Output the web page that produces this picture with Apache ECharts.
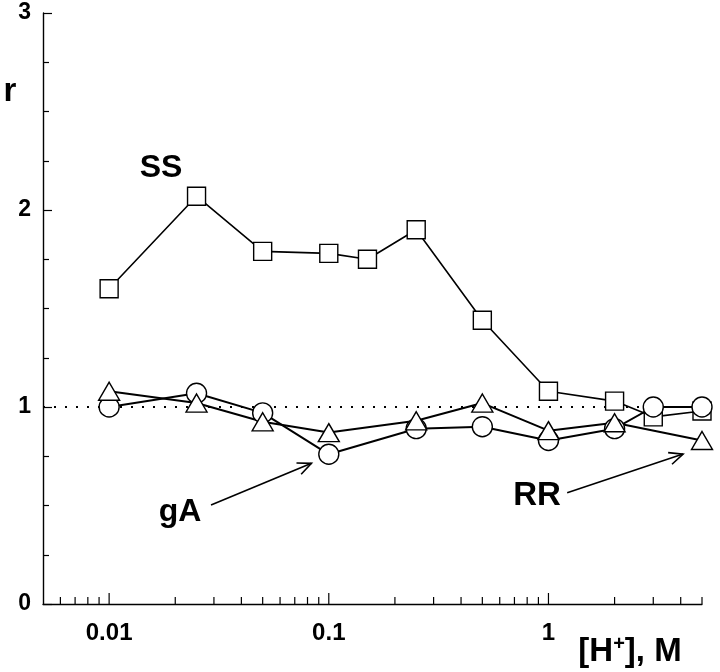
<!DOCTYPE html>
<html>
<head>
<meta charset="utf-8">
<script src="https://cdn.jsdelivr.net/npm/echarts@6/dist/echarts.min.js"></script>
<style>
html,body{margin:0;padding:0;background:#fff;}
#chart{width:720px;height:672px;}
</style>
</head>
<body>
<div id="chart"></div>
<script>
// ---- data ----
const xSS = [0.01, 0.025, 0.05, 0.1, 0.15, 0.25, 0.5, 1, 2, 3, 5];
const ySS = [1.60, 2.07, 1.79, 1.78, 1.75, 1.90, 1.44, 1.08, 1.03, 0.95, 0.98];
const xGA = [0.01, 0.025, 0.05, 0.1, 0.25, 0.5, 1, 2, 3, 5];
const yGA = [1.00, 1.07, 0.97, 0.76, 0.89, 0.90, 0.83, 0.89, 1.00, 1.00];
const xRR = [0.01, 0.025, 0.05, 0.1, 0.25, 0.5, 1, 2, 5];
const yRR = [1.08, 1.02, 0.925, 0.87, 0.93, 1.02, 0.88, 0.92, 0.83];
const refX = [0.005, 5];
const refY = [1, 1];
const majorTicks = [0.01, 0.1, 1];
const minorTicks = [0.006, 0.007, 0.008, 0.009,
  0.02, 0.03, 0.04, 0.05, 0.06, 0.07, 0.08, 0.09,
  0.2, 0.3, 0.4, 0.5, 0.6, 0.7, 0.8, 0.9,
  2, 3, 4, 5];
const xLabels = [0.01, 0.1, 1];
// annotation arrows: [fromX, fromY, toX, toY]
const arrowGA = [0.0291, 0.503, 0.0834, 0.714];
const arrowRR = [1.217, 0.565, 4.10, 0.761];

const zip = (xs, ys) => xs.map((x, i) => [x, ys[i]]);
const FONT = "'Liberation Sans', Arial, Helvetica, sans-serif";

const chart = echarts.init(document.getElementById('chart'), null, {renderer: 'canvas'});

const tickData = majorTicks.map(v => [v, 0, 1]).concat(minorTicks.map(v => [v, 0, 0]));

const lineSeries = (name, data, symbol, size, lw) => ({
  name, type: 'line', data,
  symbol, symbolSize: size,
  showAllSymbol: true,
  lineStyle: {color: '#000', width: lw},
  itemStyle: {color: '#fff', borderColor: '#000', borderWidth: 1.4},
  emphasis: {disabled: true},
  animation: false,
  z: 3
});

chart.setOption({
  animation: false,
  backgroundColor: '#fff',
  grid: {left: 43, right: 18, top: 13, bottom: 68, containLabel: false},
  xAxis: {
    type: 'log', logBase: 10, min: 0.005, max: 5,
    axisLine: {show: true, onZero: false, lineStyle: {color: '#000', width: 1.4}},
    axisTick: {show: false},
    minorTick: {show: false},
    splitLine: {show: false},
    axisLabel: {
      show: true, margin: 17,
      fontFamily: FONT, fontWeight: 'bold', fontSize: 24, color: '#000',
      showMinLabel: false, showMaxLabel: false,
      formatter: v => {
        for (const t of xLabels) {
          if (Math.abs(Math.log10(v) - Math.log10(t)) < 1e-6) return String(t);
        }
        return '';
      }
    }
  },
  yAxis: {
    type: 'value', min: 0, max: 3, interval: 1,
    axisLine: {show: true, onZero: false, lineStyle: {color: '#000', width: 1.4}},
    axisTick: {show: true, inside: true, length: 9, lineStyle: {color: '#000', width: 1.2}},
    minorTick: {show: true, splitNumber: 4, length: 6, lineStyle: {color: '#000', width: 1.2}},
    splitLine: {show: false},
    axisLabel: {margin: 12, fontFamily: FONT, fontWeight: 'bold', fontSize: 23, color: '#000'}
  },
  series: [
    {
      name: 'ref', type: 'line', data: zip(refX, refY), symbol: 'none',
      lineStyle: {color: '#000', width: 2, type: [2, 9]}, z: 1, silent: true
    },
    {
      name: 'ticks', type: 'custom', data: tickData, silent: true,
      encode: {x: 0, y: 1}, clip: false, z: 5,
      renderItem: (params, api) => {
        const p = api.coord([api.value(0), 0]);
        const len = api.value(2) ? 11 : 7;
        return {type: 'line', shape: {x1: p[0], y1: p[1], x2: p[0], y2: p[1] - len},
          style: {stroke: '#000', lineWidth: 1.2}};
      }
    },
    lineSeries('SS', zip(xSS, ySS), 'rect', 18, 1.6),
    lineSeries('gA', zip(xGA, yGA), 'circle', 20, 2),
    lineSeries('RR', zip(xRR, yRR), 'triangle', [21, 18], 2),
    {
      name: 'arrows', type: 'custom', data: [arrowGA, arrowRR], silent: true,
      encode: {x: [0, 2], y: [1, 3]}, clip: false, z: 6,
      renderItem: (params, api) => {
        const a = api.coord([api.value(0), api.value(1)]);
        const b = api.coord([api.value(2), api.value(3)]);
        const ang = Math.atan2(b[1] - a[1], b[0] - a[0]);
        const L = 15, w = 0.42;
        const h1 = [b[0] - L * Math.cos(ang - w), b[1] - L * Math.sin(ang - w)];
        const h2 = [b[0] - L * Math.cos(ang + w), b[1] - L * Math.sin(ang + w)];
        return {type: 'group', children: [
          {type: 'line', shape: {x1: a[0], y1: a[1], x2: b[0], y2: b[1]}, style: {stroke: '#000', lineWidth: 1.6}},
          {type: 'polyline', shape: {points: [h1, b, h2]}, style: {stroke: '#000', lineWidth: 1.6, fill: null}}
        ]};
      }
    }
  ],
  graphic: [
    {type: 'text', x: 10, y: 92, style: {text: 'r', font: "bold 33px " + FONT, fill: '#000', align: 'center', verticalAlign: 'middle'}},
    {type: 'text', x: 161, y: 168, style: {text: 'SS', font: "bold 32px " + FONT, fill: '#000', align: 'center', verticalAlign: 'middle'}},
    {type: 'text', x: 180, y: 512, style: {text: 'gA', font: "bold 32px " + FONT, fill: '#000', align: 'center', verticalAlign: 'middle'}},
    {type: 'text', x: 537, y: 496, style: {text: 'RR', font: "bold 33px " + FONT, fill: '#000', align: 'center', verticalAlign: 'middle'}},
    {type: 'text', x: 630, y: 652, style: {
      text: '[H{sup|+}], M', font: "bold 33px " + FONT, fill: '#000', align: 'center', verticalAlign: 'middle',
      rich: {sup: {font: "bold 20px " + FONT, fill: '#000', verticalAlign: 'top', padding: [0, 0, 15, 0]}}
    }}
  ]
});
</script>
</body>
</html>
